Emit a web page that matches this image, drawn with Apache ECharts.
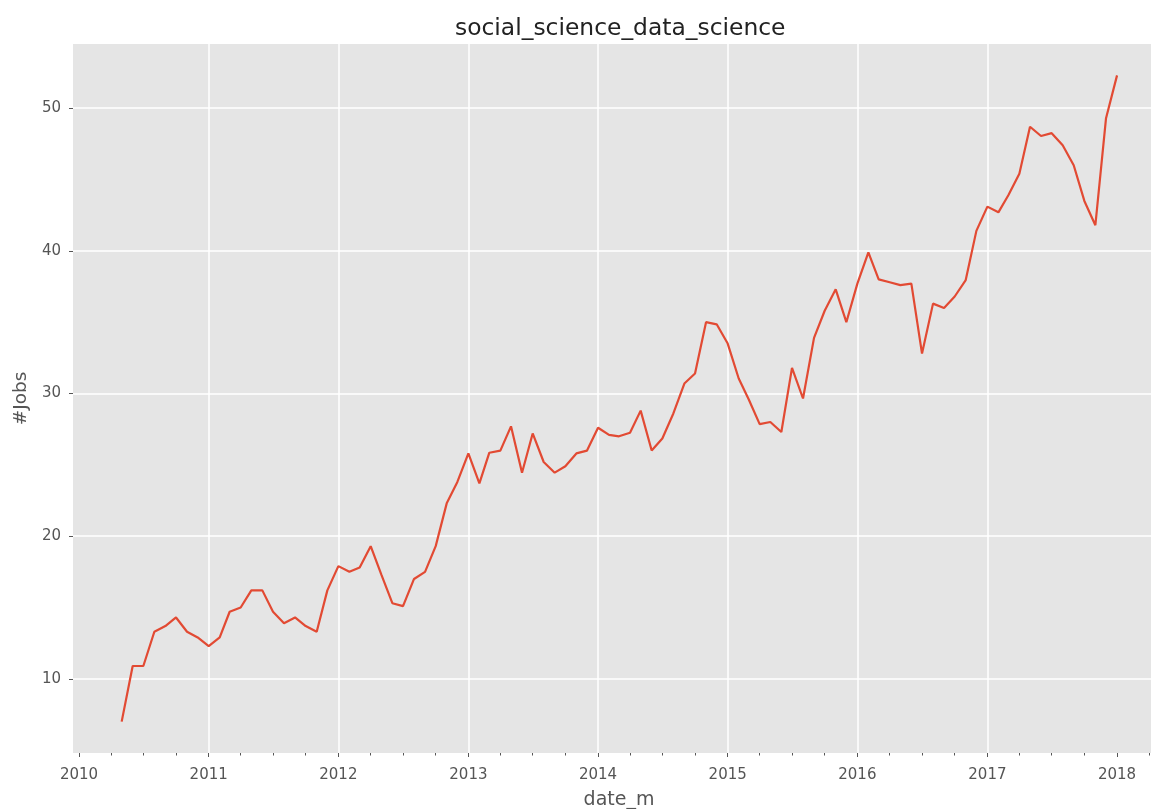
<!DOCTYPE html>
<html>
<head>
<meta charset="utf-8">
<script src="https://cdn.jsdelivr.net/npm/echarts@6/dist/echarts.min.js"></script>
<style>
  html, body { margin: 0; padding: 0; background: #ffffff; }
  #chart { width: 1151px; height: 809px; }
</style>
</head>
<body>
<div id="chart"></div>
<script>
// Monthly #Jobs, first value is 2010-05, last value is 2018-01
const startYear = 2010;
const startMonth = 5;
const jobs2010 = [7.0, 10.9, 10.9, 13.3, 13.7, 14.3, 13.3, 12.9];
const jobs2011 = [12.3, 12.9, 14.7, 15.0, 16.2, 16.2, 14.7, 13.9, 14.3, 13.7, 13.3, 16.2];
const jobs2012 = [17.9, 17.5, 17.8, 19.3, 17.3, 15.3, 15.1, 17.0, 17.5, 19.3, 22.3, 23.8];
const jobs2013 = [25.8, 23.7, 25.85, 26.0, 27.7, 24.45, 27.2, 25.2, 24.45, 24.9, 25.8, 26.0];
const jobs2014 = [27.6, 27.1, 27.0, 27.25, 28.8, 26.0, 26.85, 28.6, 30.7, 31.4, 35.0, 34.85];
const jobs2015 = [33.5, 31.05, 29.6, 27.85, 28.0, 27.3, 31.8, 29.65, 33.9, 35.8, 37.3, 35.0];
const jobs2016 = [37.7, 39.9, 38.0, 37.8, 37.6, 37.7, 32.8, 36.3, 36.0, 36.8, 37.95, 41.4];
const jobs2017 = [43.1, 42.7, 43.9, 45.4, 48.7, 48.05, 48.25, 47.4, 46.0, 43.5, 41.8, 49.3];
const jobs2018 = [52.3];

// Axis ticks
const tickYears = [2010, 2011, 2012, 2013, 2014, 2015, 2016, 2017, 2018];
const quarterMonths = ['01', '04', '07', '10'];

const titleText = 'social_science_data_science';
const xName = 'date_m';
const yName = '#Jobs';
const xMin = '2009-12-15';
const xMax = '2018-05-16';
const yMin = 4.8;
const yMax = 54.5;

function toTime(s) { return echarts.time.parse(s).getTime(); }

const allValues = [].concat(jobs2010, jobs2011, jobs2012, jobs2013, jobs2014, jobs2015, jobs2016, jobs2017, jobs2018);
const seriesData = allValues.map(function (v, i) {
  const mIndex = (startMonth - 1) + i;
  const y = startYear + Math.floor(mIndex / 12);
  const m = (mIndex % 12) + 1;
  return [toTime(y + '-' + (m < 10 ? '0' + m : m) + '-01'), v];
});
const yearTickTimes = tickYears.map(function (y) { return toTime(y + '-01-01'); });
const quarterTickTimes = [];
tickYears.forEach(function (y) {
  quarterMonths.forEach(function (m) { quarterTickTimes.push(toTime(y + '-' + m + '-01')); });
});

const chart = echarts.init(document.getElementById('chart'), null, { renderer: 'canvas' });
const font = 'DejaVu Sans';
chart.setOption({
  animation: false,
  backgroundColor: '#ffffff',
  title: {
    text: titleText,
    left: 450,
    top: 12,
    textStyle: { fontFamily: font, fontSize: 23.4, fontWeight: 'normal', color: '#222222' }
  },
  grid: {
    left: 73, right: -14, top: 44, bottom: 56,
    containLabel: false,
    outerBoundsMode: 'none',
    show: true, backgroundColor: '#E5E5E5', borderWidth: 0
  },
  xAxis: [{
    type: 'value',
    min: toTime(xMin),
    max: toTime(xMax),
    position: 'bottom',
    name: xName,
    nameLocation: 'middle',
    nameGap: 38,
    nameTextStyle: { fontFamily: font, fontSize: 19, color: '#555555' },
    axisLine: { show: false },
    axisTick: { show: true, length: 4, customValues: yearTickTimes, lineStyle: { color: '#555555', width: 1 } },
    axisLabel: {
      fontFamily: font, fontSize: 15, color: '#555555', margin: 15,
      customValues: yearTickTimes,
      formatter: function (v) { return String(new Date(v).getFullYear()); }
    },
    splitLine: { show: true, showMinLine: false, showMaxLine: false, lineStyle: { color: '#ffffff', width: 1.5 } }
  }, {
    type: 'value',
    min: toTime(xMin),
    max: toTime(xMax),
    position: 'bottom',
    axisLine: { show: false },
    axisTick: { show: true, length: 2.5, customValues: quarterTickTimes, lineStyle: { color: '#555555', width: 1 } },
    axisLabel: { show: false },
    splitLine: { show: false }
  }],
  yAxis: {
    type: 'value',
    min: yMin,
    max: yMax,
    name: yName,
    nameLocation: 'middle',
    nameGap: 41,
    nameTextStyle: { fontFamily: font, fontSize: 18.5, color: '#555555' },
    axisLine: { show: false },
    axisTick: { show: true, length: 4, lineStyle: { color: '#555555', width: 1 } },
    axisLabel: {
      fontFamily: font, fontSize: 15, color: '#555555', margin: 12,
      showMinLabel: false, showMaxLabel: false
    },
    splitLine: { show: true, showMinLine: false, showMaxLine: false, lineStyle: { color: '#ffffff', width: 1.5 } }
  },
  series: [{
    type: 'line',
    xAxisIndex: 0,
    data: seriesData,
    showSymbol: false,
    symbol: 'none',
    lineStyle: { color: '#E24A33', width: 2.2 },
    itemStyle: { color: '#E24A33' }
  }]
});
</script>
</body>
</html>
